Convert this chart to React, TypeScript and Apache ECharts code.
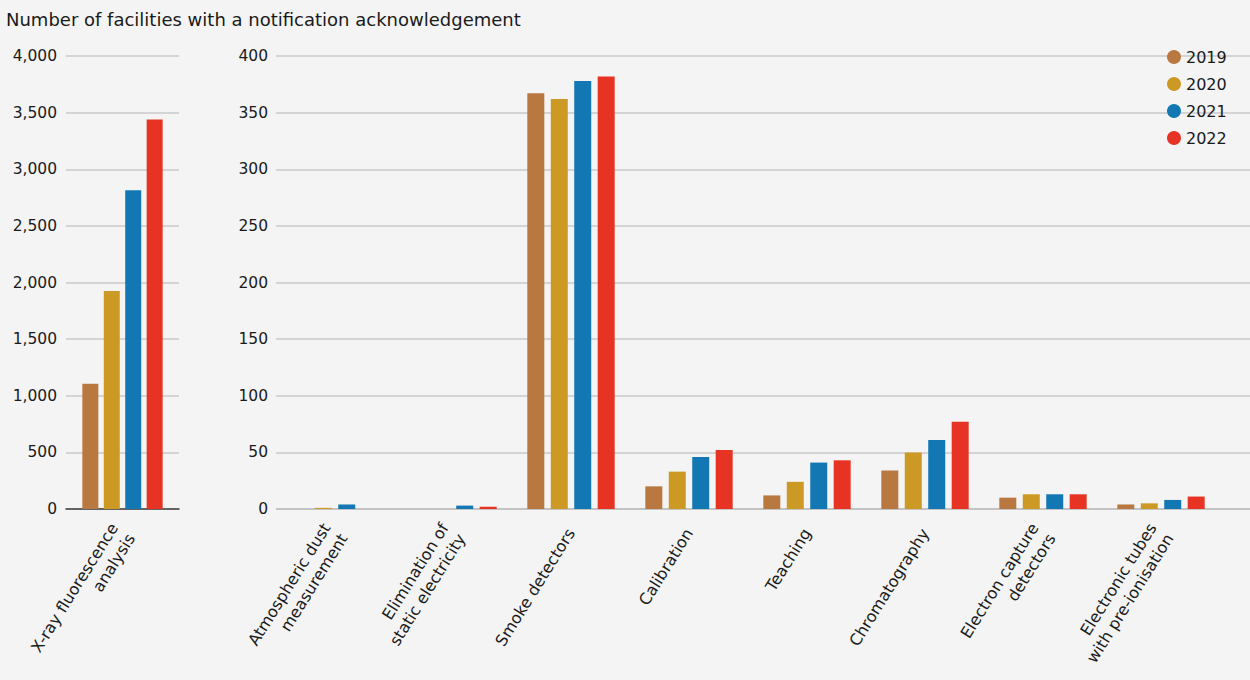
import React, { useEffect, useRef } from "react";
import * as echarts from "echarts";

const title = "Number of facilities with a notification acknowledgement";
const years = ["2019", "2020", "2021", "2022"];
const colors = ["#B87840", "#CC9A24", "#1377B3", "#E63323"];

const leftCategories = ["X-ray fluorescence\nanalysis"];
const rightCategories = [
  "Atmospheric dust\nmeasurement",
  "Elimination of\nstatic electricity",
  "Smoke detectors",
  "Calibration",
  "Teaching",
  "Chromatography",
  "Electron capture\ndetectors",
  "Electronic tubes\nwith pre-ionisation",
];

const left2019 = [1105];
const left2020 = [1925];
const left2021 = [2815];
const left2022 = [3440];

const right2019 = [0, 0, 367, 20, 12, 34, 10, 4];
const right2020 = [1, 0, 362, 33, 24, 50, 13, 5];
const right2021 = [4, 3, 378, 46, 41, 61, 13, 8];
const right2022 = [0, 2, 382, 52, 43, 77, 13, 11];

const leftTicks = { min: 0, max: 4000, interval: 500 };
const rightTicks = { min: 0, max: 400, interval: 50 };

const FONT = "DejaVu Sans";

export default function App() {
  const ref = useRef<HTMLDivElement>(null);
  useEffect(() => {
    document.body.style.margin = "0";
    const chart = echarts.init(ref.current!, null, { renderer: "svg" });
    const leftData = [left2019, left2020, left2021, left2022];
    const rightData = [right2019, right2020, right2021, right2022];
    const gridColors = ["#b3b3b3", "#cacaca", "#cacaca", "#cacaca", "#cacaca", "#cacaca", "#cacaca", "#cacaca", "#cacaca"];
    const xLabel = {
      interval: 0,
      rotate: 58,
      fontSize: 16,
      fontFamily: FONT,
      color: "#1a1a1a",
      margin: 21,
      lineHeight: 20,
    };
    const yLabel = { fontSize: 15.5, fontFamily: FONT, color: "#1a1a1a" };
    const series: any[] = [];
    years.forEach((y, i) => {
      series.push({
        name: y,
        type: "bar",
        xAxisIndex: 0,
        yAxisIndex: 0,
        data: leftData[i],
        barWidth: 16,
        barGap: "34%",
        itemStyle: { color: colors[i] },
      });
    });
    years.forEach((y, i) => {
      series.push({
        name: y,
        type: "bar",
        xAxisIndex: 1,
        yAxisIndex: 1,
        data: rightData[i],
        barWidth: 17,
        barGap: "38%",
        itemStyle: { color: colors[i] },
      });
    });
    chart.setOption({
      animation: false,
      backgroundColor: "#F4F4F4",
      textStyle: { fontFamily: FONT },
      title: {
        text: title,
        left: 1,
        top: 5,
        textStyle: { fontSize: 18, fontWeight: "normal", color: "#1a1a1a", fontFamily: FONT },
      },
      legend: {
        data: years,
        orient: "vertical",
        left: 1162,
        top: 44,
        icon: "circle",
        itemWidth: 14,
        itemHeight: 14,
        itemGap: 11,
        textStyle: { fontSize: 16, fontFamily: FONT, color: "#1a1a1a" },
      },
      grid: [
        { left: 66, width: 113, top: 56, height: 453 },
        { left: 276, width: 944, top: 56, height: 453 },
        { left: 276, right: 0, top: 56, height: 453 },
      ],
      xAxis: [
        {
          type: "category",
          gridIndex: 0,
          data: leftCategories,
          axisLine: { show: true, lineStyle: { color: "#444", width: 1.5 } },
          axisTick: { show: false },
          axisLabel: xLabel,
        },
        {
          type: "category",
          gridIndex: 1,
          data: rightCategories,
          axisLine: { show: false },
          axisTick: { show: false },
          axisLabel: xLabel,
        },
        {
          type: "value",
          gridIndex: 2,
          show: false,
        },
      ],
      yAxis: [
        {
          type: "value",
          gridIndex: 0,
          ...leftTicks,
          axisLine: { show: false },
          axisTick: { show: false },
          axisLabel: { ...yLabel, margin: 9 },
          splitLine: { lineStyle: { color: gridColors, width: 1.5 } },
        },
        {
          type: "value",
          gridIndex: 1,
          ...rightTicks,
          axisLine: { show: false },
          axisTick: { show: false },
          axisLabel: { ...yLabel, margin: 8 },
          splitLine: { show: false },
        },
        {
          type: "value",
          gridIndex: 2,
          ...rightTicks,
          axisLine: { show: false },
          axisTick: { show: false },
          axisLabel: { show: false },
          splitLine: { lineStyle: { color: gridColors, width: 1.5 } },
        },
      ],
      series,
    });
    return () => chart.dispose();
  }, []);
  return <div ref={ref} style={{ width: 1250, height: 680 }} />;
}
